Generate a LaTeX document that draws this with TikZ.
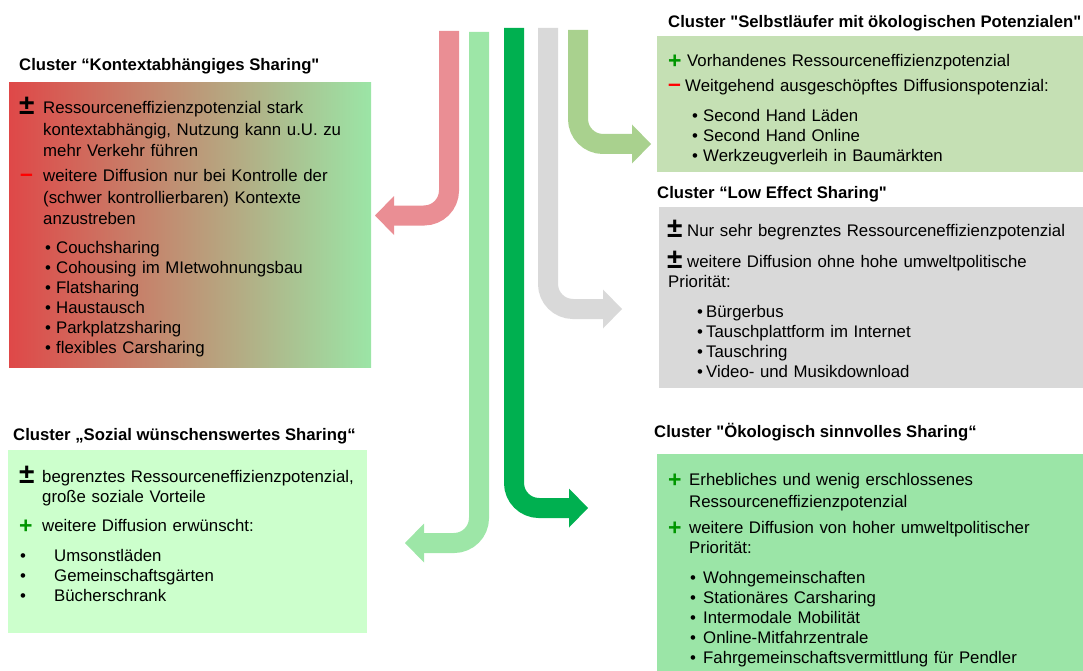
\documentclass[tikz,border=0pt]{standalone}
\usepackage{fontspec}
\setmainfont{Liberation Sans}[Ligatures=TeXOff]
\usetikzlibrary{calc}
\definecolor{cRed}{RGB}{223,72,72}
\definecolor{cGrad}{RGB}{155,229,166}
\definecolor{cSelb}{RGB}{197,224,180}
\definecolor{cLow}{RGB}{217,217,217}
\definecolor{cSoz}{RGB}{204,255,204}
\definecolor{cOek}{RGB}{155,229,167}
\definecolor{aPink}{RGB}{234,142,148}
\definecolor{aLight}{RGB}{157,230,167}
\definecolor{aDark}{RGB}{0,176,80}
\definecolor{aGray}{RGB}{217,217,217}
\definecolor{aOlive}{RGB}{169,209,142}
\definecolor{plusG}{RGB}{0,150,0}
\definecolor{minusR}{RGB}{255,0,0}
\newcommand\bl[2][11pt]{\makebox[#1][l]{•}#2}
\begin{document}
\begin{tikzpicture}[x=1pt,y=-1pt,
  box/.style={anchor=north west, inner sep=0pt, outer sep=0pt, draw=none},
  ttl/.style={anchor=base west, inner sep=0pt, font=\fontsize{16.7}{20}\selectfont\bfseries},
  txt/.style={anchor=base west, inner sep=0pt, align=left, text width=390pt, font=\fontsize{16.8}{21.5}\selectfont},
  lst/.style={anchor=base west, inner sep=0pt, align=left, text width=390pt, font=\fontsize{16.8}{20}\selectfont},
  sgn/.style={anchor=base west, inner sep=0pt, font=\fontsize{23}{23}\selectfont\bfseries},
  pm/.style={anchor=base west, inner sep=0pt, font=\fontsize{28}{28}\selectfont\bfseries, yshift=-1pt},
  plus/.style={sgn, text=plusG, yshift=-2pt},
  minus/.style={sgn, text=minusR},
  band/.style={line width=20pt, rounded corners=25pt},
]
\useasboundingbox (0,0) rectangle (1083,671);

% ---------- boxes ----------
\node[box, minimum width=362pt, minimum height=284pt, left color=cRed, right color=cGrad] (kontext) at (9,83) {};
\node[box, fill=cSelb, minimum width=426pt, minimum height=136pt] (selbst) at (657,36) {};
\node[box, fill=cLow, minimum width=424pt, minimum height=181pt] (low) at (659,207) {};
\node[box, fill=cSoz, minimum width=359pt, minimum height=183pt] (sozial) at (8,450) {};
\node[box, fill=cOek, minimum width=426pt, minimum height=217pt] (oeko) at (657,454) {};

% ---------- arrows ----------
\coordinate (pS) at (449,31);  \coordinate (pN) at (394,215.5); \coordinate (pT) at (375,215.5);
\coordinate (lS) at (479,32);  \coordinate (lN) at (424,543);   \coordinate (lT) at (405,543);
\coordinate (dS) at (514,28);  \coordinate (dN) at (569,508);   \coordinate (dT) at (588,508);
\coordinate (gS) at (548,28);  \coordinate (gN) at (603,309);   \coordinate (gT) at (622,309);
\coordinate (oS) at (578,30);  \coordinate (oN) at (632,144);   \coordinate (oT) at (651,144);

\draw[band, aPink]  (pS) |- ($(pN)+(-1,0)$);
\fill[aPink]  (pT) -- ($(pN)+(0,-19.5)$) -- ($(pN)+(0,19.5)$) -- cycle;
\draw[band, aLight] (lS) |- ($(lN)+(-1,0)$);
\fill[aLight] (lT) -- ($(lN)+(0,-19.5)$) -- ($(lN)+(0,19.5)$) -- cycle;
\draw[band, aDark]  (dS) |- ($(dN)+(1,0)$);
\fill[aDark]  (dT) -- ($(dN)+(0,-19.5)$) -- ($(dN)+(0,19.5)$) -- cycle;
\draw[band, aGray]  (gS) |- ($(gN)+(1,0)$);
\fill[aGray]  (gT) -- ($(gN)+(0,-19.5)$) -- ($(gN)+(0,19.5)$) -- cycle;
\draw[band, aOlive] (oS) |- ($(oN)+(1,0)$);
\fill[aOlive] (oT) -- ($(oN)+(0,-19.5)$) -- ($(oN)+(0,19.5)$) -- cycle;

% ---------- Kontextabhängiges Sharing ----------
\node[ttl] (t1) at (19,71) {Cluster “Kontextabhängiges Sharing"};
\node[pm] (s1a) at (19,114) {±};
\node[txt] (i1a) at (43,114) {Ressourceneffizienzpotenzial stark\\kontextabhängig, Nutzung kann u.U. zu\\mehr Verkehr führen};
\node[minus] (s1b) at (20,182) {–};
\node[txt] (i1b) at (43,182) {weitere Diffusion nur bei Kontrolle der\\(schwer kontrollierbaren) Kontexte\\anzustreben};
\node[lst] (l1) at (45,253) {\bl{Couchsharing}\\\bl{Cohousing im MIetwohnungsbau}\\\bl{Flatsharing}\\\bl{Haustausch}\\\bl{Parkplatzsharing}\\\bl{flexibles Carsharing}};

% ---------- Selbstläufer ----------
\node[ttl] (t2) at (668,28) {Cluster "Selbstläufer mit ökologischen Potenzialen"};
\node[plus] (s2a) at (668,67) {+};
\node[txt] (i2a) at (687,67) {Vorhandenes Ressourceneffizienzpotenzial};
\node[minus] (s2b) at (668,92) {–};
\node[txt] (i2b) at (685,92) {Weitgehend ausgeschöpftes Diffusionspotenzial:};
\node[lst] (l2) at (692,122) {\bl{Second Hand Läden}\\\bl{Second Hand Online}\\\bl{Werkzeugverleih in Baumärkten}};

% ---------- Low Effect ----------
\node[ttl] (t3) at (657,198) {Cluster “Low Effect Sharing"};
\node[pm] (s3a) at (667,236) {±};
\node[txt] (i3a) at (687,236) {Nur sehr begrenztes Ressourceneffizienzpotenzial};
\node[pm] (s3b) at (667,267) {±};
\node[txt] (i3b) at (687,267) {weitere Diffusion ohne hohe umweltpolitische};
\node[txt] (i3c) at (668,287) {Priorität:};
\node[lst] (l3) at (697,317) {\bl[9pt]{Bürgerbus}\\\bl[9pt]{Tauschplattform im Internet}\\\bl[9pt]{Tauschring}\\\bl[9pt]{Video- und Musikdownload}};

% ---------- Sozial ----------
\node[ttl] (t4) at (13,440) {Cluster „Sozial wünschenswertes Sharing“};
\node[pm] (s4a) at (19,482) {±};
\node[txt, font=\fontsize{16.8}{20}\selectfont] (i4a) at (42,482) {begrenztes Ressourceneffizienzpotenzial,\\große soziale Vorteile};
\node[plus] (s4b) at (19,531) {+};
\node[txt] (i4b) at (42,531) {weitere Diffusion erwünscht:};
\node[lst] (l4) at (20,561) {\bl[34pt]{Umsonstläden}\\\bl[34pt]{Gemeinschaftsgärten}\\\bl[34pt]{Bücherschrank}};

% ---------- Ökologisch ----------
\node[ttl] (t5) at (654,437) {Cluster "Ökologisch sinnvolles Sharing“};
\node[plus] (s5a) at (668,485) {+};
\node[txt, font=\fontsize{16.8}{22}\selectfont] (i5a) at (689,485) {Erhebliches und wenig erschlossenes\\Ressourceneffizienzpotenzial};
\node[plus] (s5b) at (668,533) {+};
\node[txt, font=\fontsize{16.8}{20}\selectfont] (i5b) at (689,533) {weitere Diffusion von hoher umweltpolitischer\\Priorität:};
\node[lst] (l5) at (690,583) {\bl[13pt]{Wohngemeinschaften}\\\bl[13pt]{Stationäres Carsharing}\\\bl[13pt]{Intermodale Mobilität}\\\bl[13pt]{Online-Mitfahrzentrale}\\\bl[13pt]{Fahrgemeinschaftsvermittlung für Pendler}};
\end{tikzpicture}
\end{document}
